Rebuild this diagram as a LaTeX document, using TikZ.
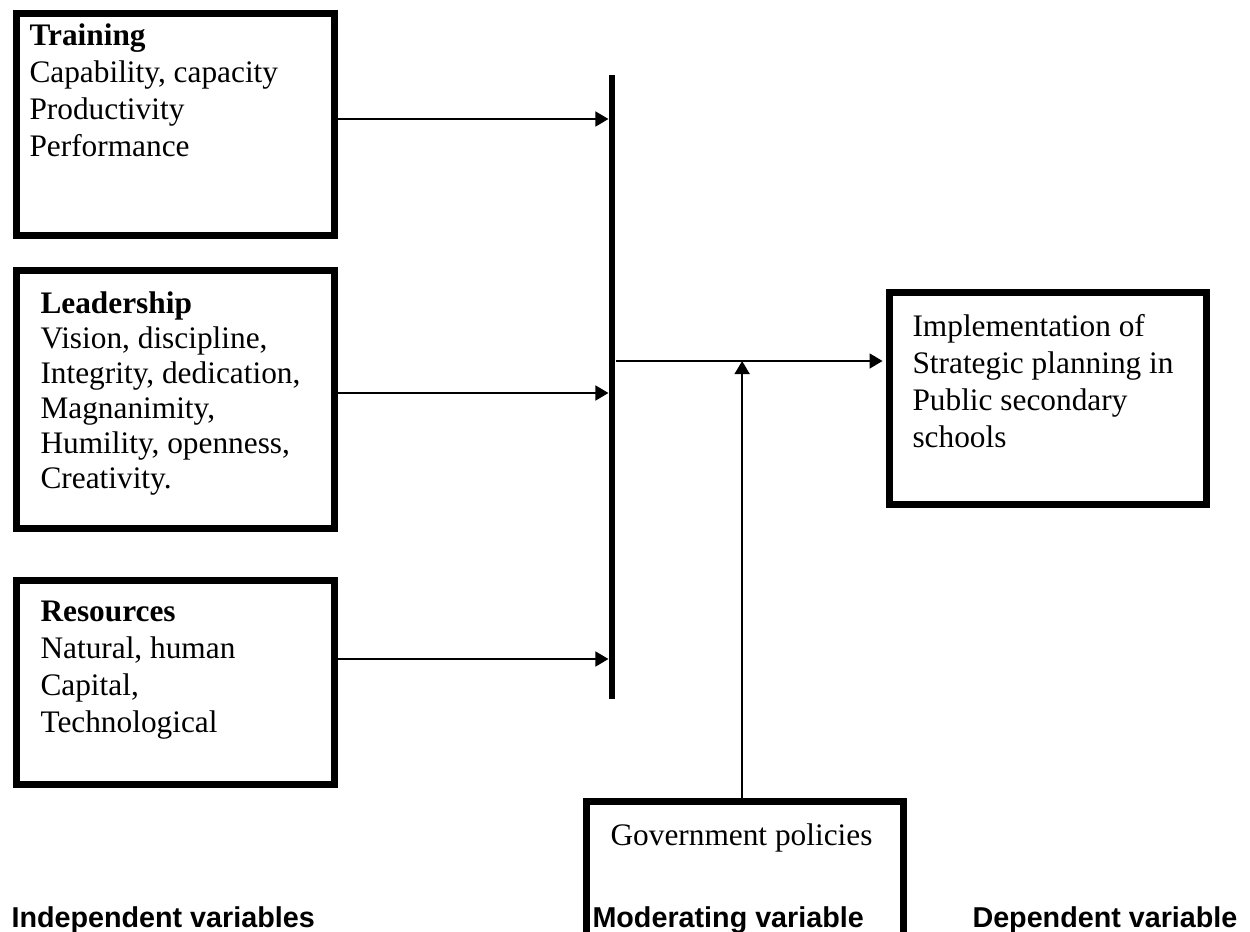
\documentclass[tikz,border=0pt]{standalone}
\usepackage{fontspec}
\setmainfont{Liberation Serif}
\setsansfont{Liberation Sans}
\usepackage{tikz}
\usetikzlibrary{fit, calc}
\usetikzlibrary{positioning}
\usetikzlibrary{arrows.meta}
\tikzset{varbox/.style={draw, line width=2.7pt, inner sep=0pt},
    vartext/.style={inner sep=0pt, anchor=north west, align=left, font=\fontsize{12pt}{14.2pt}\selectfont},
    link/.style={line width=0.8pt, -{Triangle[length=5pt, width=5.7pt]}},
    vartitle/.style={inner sep=0pt, anchor=base west, font=\fontsize{11pt}{13pt}\selectfont\sffamily\bfseries}
}

\begin{document}
\begin{tikzpicture}[x=0.383pt, y=-0.383pt]

\clip (0,0) rectangle (1250,932);

\node[varbox, fit={(16.5,13.5) (334.5,235.5)}] (training) {};
\node[varbox, fit={(16.5,270.5) (334.5,528.5)}] (leadership) {};
\node[varbox, fit={(16.5,580.5) (334.5,784.5)}] (resources) {};
\node[varbox, fit={(889.5,292.5) (1206.5,504.5)}] (implementation) {};
\node[varbox, fit={(586.5,801.5) (903.5,980)}] (government) {};
\node[fill=black, inner sep=0pt, fit={(609,75) (615,699)}] (bar) {};

\node[vartext] (trainingtxt) at (29,23.5) {\textbf{Training}\\Capability, capacity\\Productivity\\Performance};
\node[vartext, font=\fontsize{12pt}{13.4pt}\selectfont] (leadershiptxt) at (40,291) {\textbf{Leadership}\\Vision, discipline,\\Integrity, dedication,\\Magnanimity,\\Humility, openness,\\Creativity.};
\node[vartext] (resourcestxt) at (40,600) {\textbf{Resources}\\Natural, human\\Capital,\\Technological};
\node[vartext] (implementationtxt) at (912,313.5) {Implementation of\\Strategic planning in\\Public secondary\\schools};
\node[vartext, anchor=north] (governmenttxt) at (741.5,823.5) {Government policies};

\node[vartitle] (indep) at (11,927) {Independent variables};
\node[vartitle] (moder) at (592,927) {Moderating variable};
\node[vartitle] (dep) at (972,927) {Dependent variable};

\coordinate (trout) at (training.east |- 0,119);
\coordinate (leout) at (leadership.east |- 0,393);
\coordinate (reout) at (resources.east |- 0,659);
\coordinate (join) at (bar.east |- 0,361);
\coordinate (modout) at ([xshift=-1.1pt]government.north);

\draw[link] (trout) -- (trout -| bar.west);
\draw[link] (leout) -- (leout -| bar.west);
\draw[link] (reout) -- (reout -| bar.west);
\draw[link, shorten >=1.3pt] (join) -- (join -| implementation.west);
\draw[link] (modout) -- (modout |- join);

\end{tikzpicture}
\end{document}
